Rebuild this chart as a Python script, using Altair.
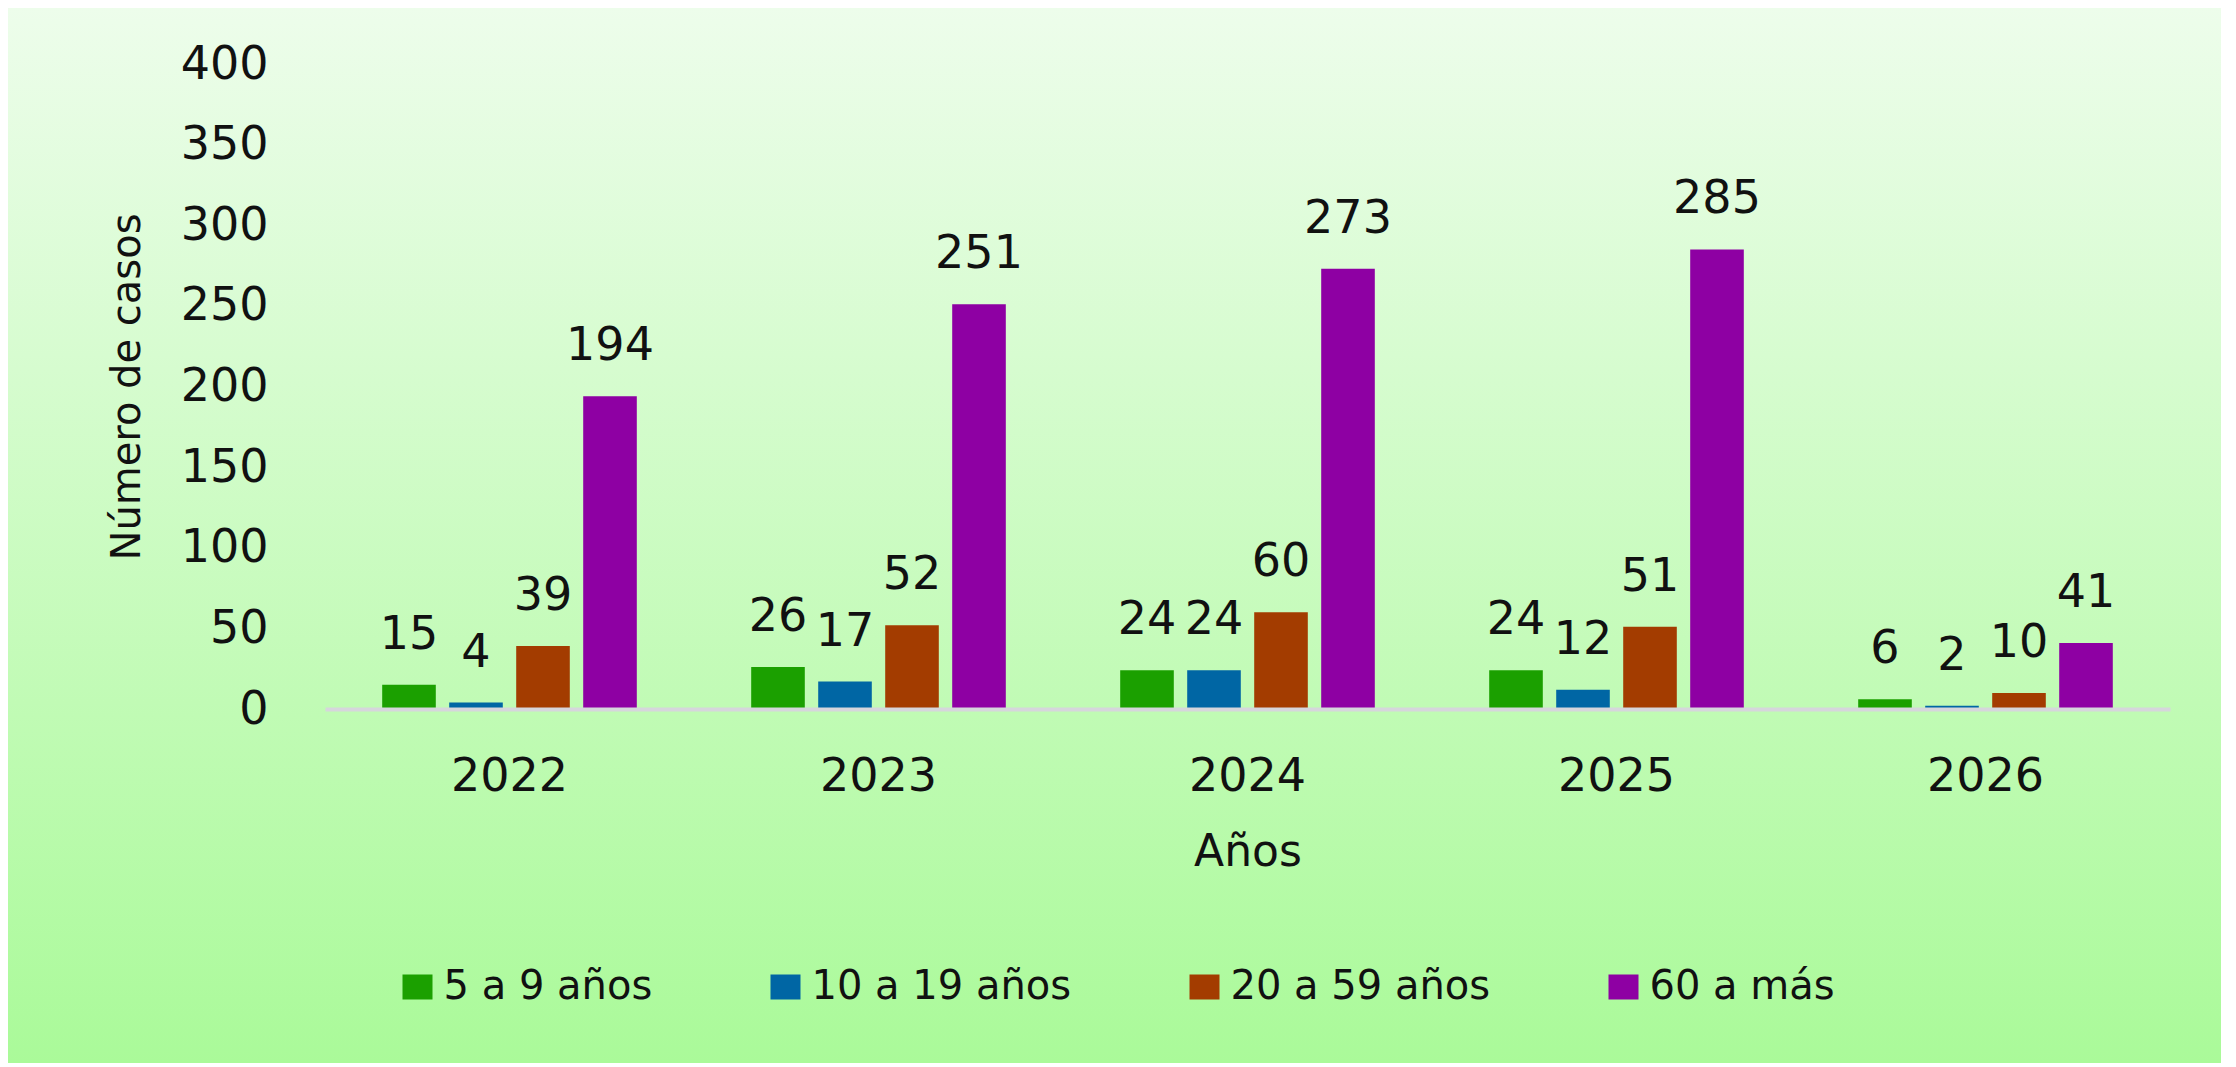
import altair as alt
import pandas as pd

# ---- data ----
years = ["2022", "2023", "2024", "2025", "2026"]
groups = ["5 a 9 años", "10 a 19 años", "20 a 59 años", "60 a más"]
v_5_9 = [15, 26, 24, 24, 6]
v_10_19 = [4, 17, 24, 12, 2]
v_20_59 = [39, 52, 60, 51, 10]
v_60_mas = [194, 251, 273, 285, 41]
colors = ["#1BA000", "#0066A4", "#A33C00", "#8E00A3"]
y_ticks = [0, 50, 100, 150, 200, 250, 300, 350, 400]

rows = []
for g, vals in zip(groups, [v_5_9, v_10_19, v_20_59, v_60_mas]):
    for yr, v in zip(years, vals):
        rows.append({"Año": yr, "Grupo": g, "Casos": v})
df = pd.DataFrame(rows)

# ---- layout ----
W, H = 1845, 645
PL, PT, PR, PB = 317, 56, 51, 354
FONT = "DejaVu Sans"
TXT = "#111111"

# background gradient panel
bg = alt.Chart(pd.DataFrame({"k": [0]})).mark_rect(
    fill=alt.LinearGradient(
        gradient="linear",
        stops=[alt.GradientStop(color="#EDFDEB", offset=0),
               alt.GradientStop(color="#AAFA99", offset=1)],
        x1=0, x2=0, y1=0, y2=1,
    )
).encode(
    x=alt.value(-PL), x2=alt.value(W + PR),
    y=alt.value(-PT), y2=alt.value(H + PB),
)

x_enc = alt.X(
    "Año:N", sort=years,
    scale=alt.Scale(paddingInner=0.31, paddingOuter=0.155),
    axis=alt.Axis(
        title="Años", labelAngle=0, ticks=False, grid=False, zindex=1,
        domain=True, domainColor="#D6D6DC", domainWidth=4,
        labelPadding=45, labelFontSize=46, labelFont=FONT, labelColor=TXT,
        titleFontSize=44, titleFont=FONT, titleFontWeight="normal",
        titleColor=TXT, titlePadding=31,
    ),
)
xoff_enc = alt.XOffset("Grupo:N", sort=groups,
                       scale=alt.Scale(paddingInner=0.2, paddingOuter=0))
y_enc = alt.Y(
    "Casos:Q",
    scale=alt.Scale(domain=[0, 400], nice=False),
    axis=alt.Axis(
        values=y_ticks, title="Número de casos", grid=False, domain=False,
        ticks=False, zindex=1, labelPadding=57, labelFontSize=46,
        labelFont=FONT, labelColor=TXT, titleFontSize=40, titleFont=FONT,
        titleFontWeight="normal", titleColor=TXT, titlePadding=33,
    ),
)
color_enc = alt.Color(
    "Grupo:N", sort=groups,
    scale=alt.Scale(domain=groups, range=colors),
    legend=alt.Legend(
        title=None, orient="none", legendX=72.5, legendY=903,
        direction="horizontal", columns=4, padding=0,
        symbolType="M-1.2,-1H1.2V1H-1.2Z", symbolSize=625,
        symbolStrokeWidth=0, symbolOpacity=1,
        labelFontSize=40, labelFont=FONT, labelColor=TXT,
        labelOffset=6, columnPadding=113, labelLimit=0,
    ),
)

base = alt.Chart(df)
bars = base.mark_bar().encode(x=x_enc, xOffset=xoff_enc, y=y_enc, color=color_enc)
labels = base.mark_text(
    baseline="alphabetic", dy=-36, fontSize=46, font=FONT, color=TXT
).encode(x=x_enc, xOffset=xoff_enc, y=y_enc, text="Casos:Q")

chart = alt.layer(bg, bars, labels).properties(
    width=W, height=H,
    padding={"left": PL, "top": PT, "right": PR, "bottom": PB},
    autosize=alt.AutoSizeParams(type="none"),
).configure(
    font=FONT, background="#FFFFFF"
).configure_view(strokeWidth=0)

chart.save("out.html", embed_options={"renderer": "svg", "actions": False})
